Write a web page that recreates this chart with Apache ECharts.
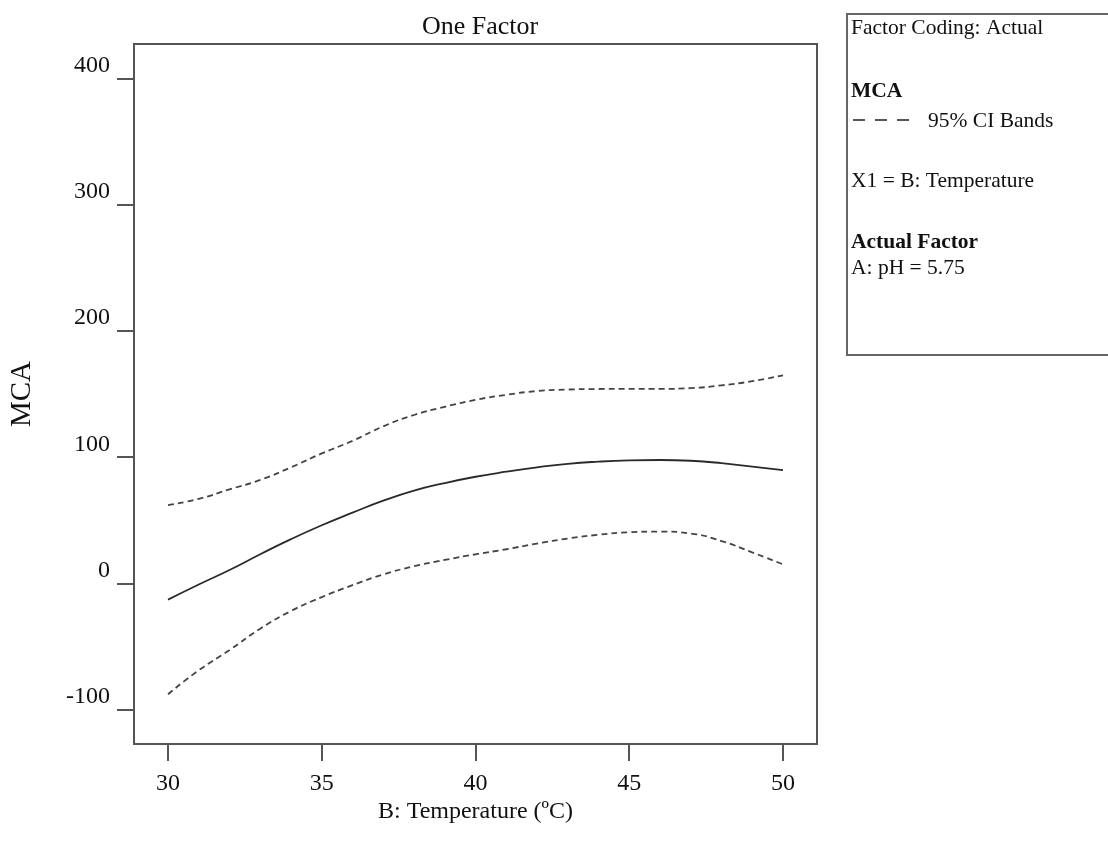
<!DOCTYPE html>
<html>
<head>
<meta charset="utf-8">
<script src="https://cdn.jsdelivr.net/npm/echarts@6/dist/echarts.min.js"></script>
<style>
  html, body { margin: 0; padding: 0; background: #fff; }
  #chart { width: 1108px; height: 848px; }
</style>
</head>
<body>
<div id="chart"></div>
<script>
// Data
var temperature = [30, 31, 32, 33, 34, 35, 36, 37, 38, 39, 40, 41, 42, 43, 44, 45, 46, 47, 48, 49, 50];
var mcaPredicted = [-13, -1, 10.5, 23, 35, 46, 56, 65.5, 73.5, 79.5, 84.5, 88.5, 92, 94.8, 96.5, 97.5, 97.8, 97.2, 95.3, 92.5, 89.8];
var ciUpper = [62, 67, 74.5, 82, 92, 103, 113, 124.5, 133.5, 140, 145.5, 149.5, 152.5, 153.7, 154.1, 154.2, 154.2, 154.8, 157, 160.3, 165];
var ciLower = [-88, -69, -53, -36, -22, -11, -1.5, 7, 13.5, 18.5, 23, 27, 31.5, 35.5, 38.5, 40.5, 41, 39.5, 33.5, 24.5, 15];
var xTicks = [30, 35, 40, 45, 50];
var yTicks = [-100, 0, 100, 200, 300, 400];
var legendLines = ['Factor Coding: Actual', 'MCA', '95% CI Bands', 'X1 = B: Temperature', 'Actual Factor', 'A: pH = 5.75'];

function pairs(xs, ys) { return xs.map(function (x, i) { return [x, ys[i]]; }); }

var serif = "'Liberation Serif', 'Times New Roman', serif";
var axisColor = '#555';
var lf = '21.5px ' + serif;
var lfb = 'bold 21.5px ' + serif;

var chart = echarts.init(document.getElementById('chart'), null, { renderer: 'canvas' });
chart.setOption({
  animation: false,
  backgroundColor: '#fff',
  title: {
    text: 'One Factor',
    left: 475, top: 9, textAlign: 'center',
    textStyle: { fontFamily: serif, fontSize: 26, fontWeight: 'normal', color: '#111' }
  },
  grid: {
    left: 134, top: 44, right: 291, bottom: 104,
    show: true, borderColor: axisColor, borderWidth: 2, backgroundColor: 'transparent'
  },
  xAxis: {
    type: 'value', min: 28.894, max: 51.106,
    name: 'B: Temperature (ºC)', nameLocation: 'middle', nameGap: 56, nameMoveOverlap: false,
    nameTextStyle: { fontFamily: serif, fontSize: 24, color: '#111' },
    axisLine: { show: true, onZero: false, lineStyle: { color: axisColor, width: 2 } },
    axisTick: { show: true, customValues: xTicks, length: 17, inside: false, lineStyle: { color: axisColor, width: 2 } },
    axisLabel: { customValues: xTicks, margin: 28, fontFamily: serif, fontSize: 24, color: '#111' },
    splitLine: { show: false }
  },
  yAxis: {
    type: 'value', min: -127.5, max: 427.8,
    name: 'MCA', nameLocation: 'middle', nameGap: 97, nameRotate: 90, nameMoveOverlap: false,
    nameTextStyle: { fontFamily: serif, fontSize: 29, color: '#111' },
    axisLine: { show: true, onZero: false, lineStyle: { color: axisColor, width: 2 } },
    axisTick: { show: true, customValues: yTicks, length: 17, inside: false, lineStyle: { color: axisColor, width: 2 } },
    axisLabel: {
      customValues: yTicks, margin: 24, fontFamily: serif, fontSize: 24, color: '#111',
      verticalAlign: 'bottom', lineHeight: 24, padding: [0, 0, 1, 0]
    },
    splitLine: { show: false }
  },
  series: [
    {
      name: 'MCA', type: 'line', smooth: true, symbol: 'none',
      data: pairs(temperature, mcaPredicted),
      lineStyle: { color: '#2a2a2a', width: 1.8 }
    },
    {
      name: '95% CI Upper', type: 'line', smooth: true, symbol: 'none',
      data: pairs(temperature, ciUpper),
      lineStyle: { color: '#444', width: 1.8, type: [6, 4] }
    },
    {
      name: '95% CI Lower', type: 'line', smooth: true, symbol: 'none',
      data: pairs(temperature, ciLower),
      lineStyle: { color: '#444', width: 1.8, type: [6, 4] }
    }
  ],
  graphic: [
    { type: 'rect', x: 847, y: 14, shape: { x: 0, y: 0, width: 300, height: 341 },
      style: { fill: 'none', stroke: '#666', lineWidth: 2 } },
    { type: 'text', x: 851, y: 28, style: { text: legendLines[0], font: lf, fill: '#111', verticalAlign: 'middle' } },
    { type: 'text', x: 851, y: 91, style: { text: legendLines[1], font: lfb, fill: '#111', verticalAlign: 'middle' } },
    { type: 'line', shape: { x1: 853, y1: 120, x2: 917, y2: 120 }, style: { stroke: '#555', lineWidth: 1.8, lineDash: [12, 10] } },
    { type: 'text', x: 928, y: 121, style: { text: legendLines[2], font: lf, fill: '#111', verticalAlign: 'middle' } },
    { type: 'text', x: 851, y: 181, style: { text: legendLines[3], font: lf, fill: '#111', verticalAlign: 'middle' } },
    { type: 'text', x: 851, y: 242, style: { text: legendLines[4], font: lfb, fill: '#111', verticalAlign: 'middle' } },
    { type: 'text', x: 851, y: 268, style: { text: legendLines[5], font: lf, fill: '#111', verticalAlign: 'middle' } }
  ]
});
</script>
</body>
</html>
